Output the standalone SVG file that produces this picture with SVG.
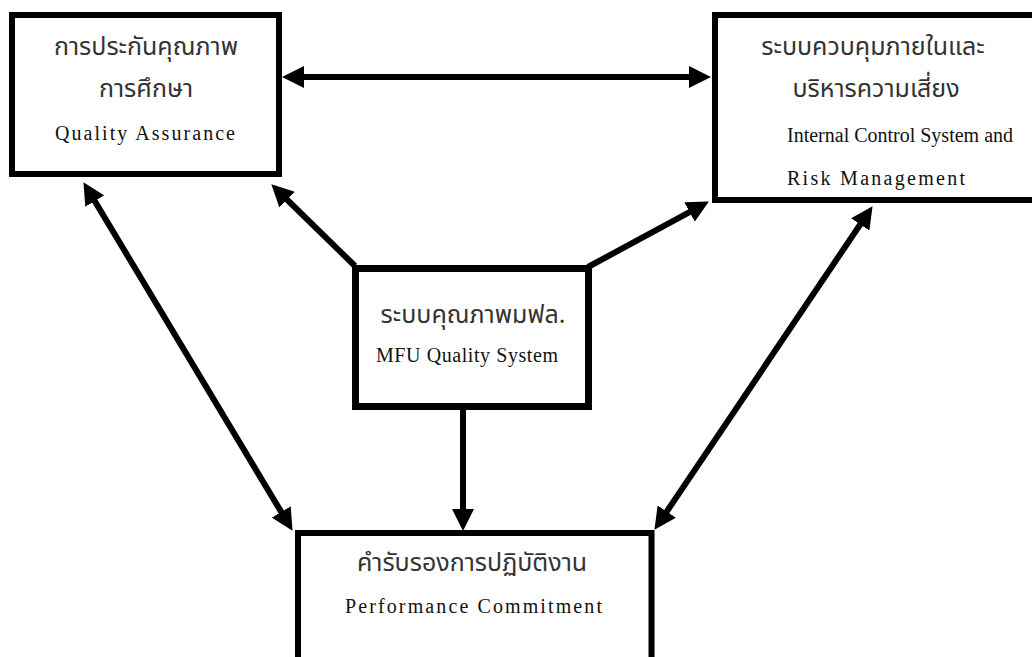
<svg xmlns="http://www.w3.org/2000/svg" width="1032" height="657" viewBox="0 0 1032 657">
<style>
.box{fill:#fff;stroke:#000;stroke-width:6}
.th{font-family:"Noto Sans Thai","Noto Serif Thai","Tlwg Typist","Garuda","Loma",sans-serif;font-size:25px;fill:#333;text-anchor:middle}
.en{font-family:"Liberation Serif","Times New Roman",serif;font-size:20px;fill:#111}
.con{fill:none;stroke:#000;stroke-width:6}
</style>
<defs>
<marker id="ah" markerUnits="userSpaceOnUse" markerWidth="22" markerHeight="22" refX="10" refY="10" orient="auto-start-reverse" viewBox="0 0 20 20">
<path d="M0,0 L20,10 L0,20 Z" fill="#000"/>
</marker>
</defs>
<rect width="1032" height="657" fill="#fff"/>
<g id="connectors">
<line class="con" x1="293" y1="77" x2="700" y2="77" marker-start="url(#ah)" marker-end="url(#ah)"/>
<line class="con" x1="355" y1="266" x2="279.2" y2="192" marker-end="url(#ah)"/>
<line class="con" x1="588" y1="267" x2="699.2" y2="206.8" marker-end="url(#ah)"/>
<line class="con" x1="89.1" y1="191.6" x2="286.9" y2="521.4" marker-start="url(#ah)" marker-end="url(#ah)"/>
<line class="con" x1="866.4" y1="215.3" x2="660.6" y2="520.7" marker-start="url(#ah)" marker-end="url(#ah)"/>
<line class="con" x1="463" y1="410" x2="463" y2="520" marker-end="url(#ah)"/>
</g>
<g id="qa">
<rect class="box" x="12" y="15" width="267" height="159"/>
<text class="th" x="146" y="55">การประกันคุณภาพ</text>
<text class="th" x="146" y="97">การศึกษา</text>
<text class="en" x="55" y="140" textLength="180" lengthAdjust="spacing">Quality Assurance</text>
</g>
<g id="ic">
<rect class="box" x="715" y="15" width="330" height="185"/>
<text class="th" x="873" y="55">ระบบควบคุมภายในและ</text>
<text class="th" x="876" y="97">บริหารความเสี่ยง</text>
<text class="en" x="787" y="142" textLength="226" lengthAdjust="spacing">Internal Control System and</text>
<text class="en" x="787" y="185" textLength="178" lengthAdjust="spacing">Risk Management</text>
</g>
<g id="mfu">
<rect class="box" x="355.5" y="268.5" width="233" height="138" style="stroke-width:7"/>
<text class="th" x="473" y="323">ระบบคุณภาพมฟล.</text>
<text class="en" x="376" y="362" textLength="182" lengthAdjust="spacing">MFU Quality System</text>
</g>
<g id="perf">
<rect class="box" x="298" y="533" width="353.5" height="140"/>
<text class="th" x="472" y="571">คำรับรองการปฏิบัติงาน</text>
<text class="en" x="345" y="613" textLength="257" lengthAdjust="spacing">Performance Commitment</text>
</g>
</svg>
